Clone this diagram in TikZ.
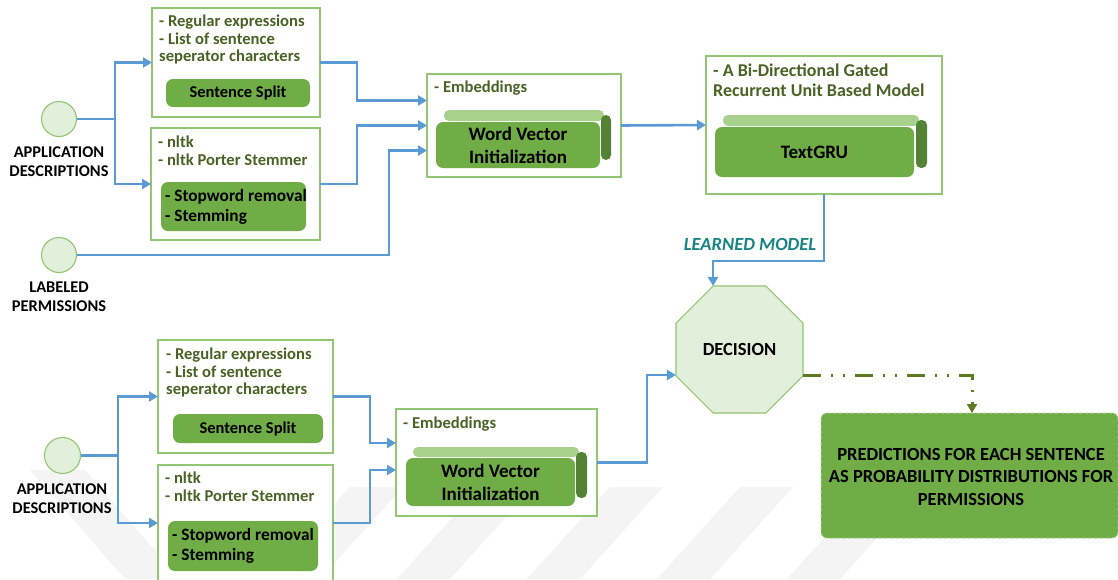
\documentclass[tikz,border=0pt]{standalone}
\usepackage{fontspec}
\setmainfont{Carlito}
\usetikzlibrary{arrows.meta,shapes.geometric,calc}
\definecolor{conn}{HTML}{5B9BD5}
\definecolor{fgreen}{HTML}{70AD47}
\definecolor{lgreen}{HTML}{A9D18E}
\definecolor{dgreen}{HTML}{548235}
\definecolor{bgreen}{HTML}{93C572}
\definecolor{cfill}{HTML}{E2EFDA}
\definecolor{olivetxt}{HTML}{4A6324}
\definecolor{teal2}{HTML}{158583}
\definecolor{dashol}{HTML}{5E7B22}
\definecolor{wmark}{HTML}{F4F4F4}
\tikzset{
  descbox/.style={draw=bgreen, line width=1.1pt, fill=white, inner sep=0, outer sep=0, anchor=north west},
  gbox/.style={fill=fgreen, rounded corners=7pt, inner sep=0, outer sep=0, anchor=north west},
  lbar/.style={fill=lgreen, rounded corners=5pt, inner sep=0, outer sep=0, anchor=north west},
  dbar/.style={fill=dgreen, rounded corners=5pt, inner sep=0, outer sep=0, anchor=north west},
  desctxt/.style={inner sep=0, anchor=north west, align=left, text=olivetxt, font=\bfseries\fontsize{16.6}{17.5}\selectfont},
  gtxt/.style={inner sep=0, text=black, font=\bfseries\fontsize{16.5}{20}\selectfont},
  stoptxt/.style={inner sep=0, align=left, anchor=west, text=black, font=\bfseries\fontsize{17.3}{20}\selectfont},
  bigtxt/.style={inner sep=0, align=center, text=black, font=\bfseries\fontsize{19}{23}\selectfont},
  lbl/.style={inner sep=0, align=center, text=black, font=\bfseries\fontsize{16.4}{19}\selectfont},
  src/.style={circle, draw=bgreen, fill=cfill, line width=1.1pt, minimum size=35pt, inner sep=0, outer sep=0},
  flow/.style={draw=conn, line width=2.6pt, -{Triangle[length=9pt,width=10pt]}},
  wm/.style={fill=wmark, draw=none},
}
\begin{document}
\begin{tikzpicture}[x=1pt,y=-1pt]
\useasboundingbox (0,0) rectangle (1118,579);
\clip (0,0) rectangle (1118,579);
\fill[white] (0,0) rectangle (1118,579);

% faint background watermark stripes
\fill[wm] (30,470) -- (85,470) -- (180,579) -- (125,579) -- cycle;
\foreach \xb in {267,397,527,657,787} {
  \fill[wm] (\xb+83,487) -- (\xb+136,487) -- (\xb+53,579) -- (\xb,579) -- cycle;
}

% ===== top part =====
\node[src] (c1) at (59,119) {};
\node[lbl] (c1l) at (59,161.5) {APPLICATION\\DESCRIPTIONS};
\node[src] (c2) at (59,255) {};
\node[lbl] (c2l) at (59,296.5) {LABELED\\PERMISSIONS};

\node[descbox, minimum width=168pt, minimum height=109pt] (b1) at (152,8) {};
\node[desctxt] (b1t) at (159,15) {- Regular expressions\\- List of sentence\\seperator characters};
\node[gbox, minimum width=144pt, minimum height=28pt] (b1g) at (166,79) {};
\node[gtxt] (b1gt) at (b1g.center) {Sentence Split};

\node[descbox, minimum width=169pt, minimum height=112pt] (b2) at (151,128) {};
\node[desctxt] (b2t) at (158,136) {- nltk\\- nltk Porter Stemmer};
\node[gbox, minimum width=145pt, minimum height=49pt] (b2g) at (161,182) {};
\node[stoptxt] (b2gt) at (165,206.5) {- Stopword removal\\- Stemming};

\node[descbox, minimum width=194pt, minimum height=103pt] (e1) at (427,74) {};
\node[desctxt] (e1t) at (434,81) {- Embeddings};
\node[lbar, minimum width=160pt, minimum height=11pt] (e1a) at (444,110) {};
\node[dbar, minimum width=10pt, minimum height=45pt] (e1b) at (601,115) {};
\node[gbox, minimum width=164pt, minimum height=46pt] (e1g) at (436,122) {};
\node[bigtxt] (e1gt) at (e1g.center) {Word Vector\\Initialization};

\node[descbox, minimum width=236pt, minimum height=138pt] (gru) at (706,56) {};
\node[desctxt, font=\bfseries\fontsize{18}{20}\selectfont] (grut) at (713,64) {- A Bi-Directional Gated\\Recurrent Unit Based Model};
\node[lbar, minimum width=196pt, minimum height=11pt] (grua) at (723,115) {};
\node[dbar, minimum width=11pt, minimum height=48pt] (grub) at (916,120) {};
\node[gbox, minimum width=199pt, minimum height=50pt] (grug) at (715,127) {};
\node[bigtxt] (grugt) at (grug.center) {TextGRU};

% top connectors
\coordinate (split1) at (115,119);
\draw[draw=conn, line width=2.6pt] (c1.east) -- (split1);
\draw[flow] (split1) |- (b1.west);
\draw[flow] (split1) |- (b2.west);
\draw[flow] (b1.east) -- ++(37,0) |- ($(e1.west)+(0,-25)$);
\draw[flow] (b2.east) -- ++(37,0) |- (e1.west);
\draw[flow] (c2.east) -| ($(e1.west)+(-38,25)$) -- ($(e1.west)+(0,25)$);
\draw[flow] (e1.east) -- (gru.west);

% ===== decision =====
\node[regular polygon, regular polygon sides=8, minimum size=137.5pt, inner sep=0, outer sep=0,
      draw=bgreen, fill=cfill, line width=1.1pt, font=\bfseries\fontsize{18.5}{20}\selectfont] (oct) at (739.5,349.5) {DECISION};
\draw[flow] (gru.south) -- ++(0,67) coordinate (lm) -| ($(oct.north)+(-26.5,0)$);
\node[inner sep=0, text=teal2, font=\bfseries\itshape\fontsize{18.5}{20}\selectfont] (lmt) at (750,244) {LEARNED MODEL};

% ===== bottom part =====
\node[src, minimum size=36pt] (c3) at (62.5,455.5) {};
\node[lbl] (c3l) at (62,499) {APPLICATION\\DESCRIPTIONS};

\node[descbox, minimum width=175pt, minimum height=113pt] (b3) at (158,340) {};
\node[desctxt] (b3t) at (166,348) {- Regular expressions\\- List of sentence\\seperator characters};
\node[gbox, minimum width=150pt, minimum height=29pt] (b3g) at (173,414) {};
\node[gtxt] (b3gt) at (b3g.center) {Sentence Split};

\node[descbox, minimum width=175pt, minimum height=116pt] (b4) at (158,465) {};
\node[desctxt] (b4t) at (165,472) {- nltk\\- nltk Porter Stemmer};
\node[gbox, minimum width=150pt, minimum height=50pt] (b4g) at (168,521) {};
\node[stoptxt] (b4gt) at (172,546) {- Stopword removal\\- Stemming};

\node[descbox, minimum width=201pt, minimum height=107pt] (e2) at (396,409) {};
\node[desctxt] (e2t) at (403,417) {- Embeddings};
\node[lbar, minimum width=166pt, minimum height=10pt] (e2a) at (413,447) {};
\node[dbar, minimum width=11pt, minimum height=46pt] (e2b) at (576,452) {};
\node[gbox, minimum width=169pt, minimum height=48pt] (e2g) at (406,458) {};
\node[bigtxt] (e2gt) at (e2g.center) {Word Vector\\Initialization};

\coordinate (split2) at (118,455.5);
\draw[draw=conn, line width=2.6pt] (c3.east) -- (split2);
\draw[flow] (split2) |- (b3.west);
\draw[flow] (split2) |- (b4.west);
\draw[flow] (b3.east) -- ++(37,0) |- ($(e2.west)+(0,-19.5)$);
\draw[flow] (b4.east) -- ++(37,0) |- ($(e2.west)+(0,7.5)$);
\draw[flow] (e2.east) -- ++(50,0) |- ($(oct.west)+(0,25.5)$);

% ===== predictions =====
\node[fill=fgreen, draw=lgreen, dashed, line width=1pt, rounded corners=6pt, inner sep=0, outer sep=0,
      minimum width=297pt, minimum height=125pt, anchor=north west] (pred) at (821,413) {};
\node[inner sep=0, align=center, text=black, font=\bfseries\fontsize{18.5}{22.5}\selectfont] (predt) at (971,476.5)
  {PREDICTIONS FOR EACH SENTENCE\\AS PROBABILITY DISTRIBUTIONS FOR\\PERMISSIONS};
\draw[draw=dashol, line width=3pt, dash pattern=on 18pt off 10pt on 2pt off 10pt on 2pt off 10pt,
      -{Triangle[length=9pt,width=10pt]}] ($(oct.east)+(0,25.5)$) -| ($(pred.north)+(2.5,0)$);
\end{tikzpicture}
\end{document}
